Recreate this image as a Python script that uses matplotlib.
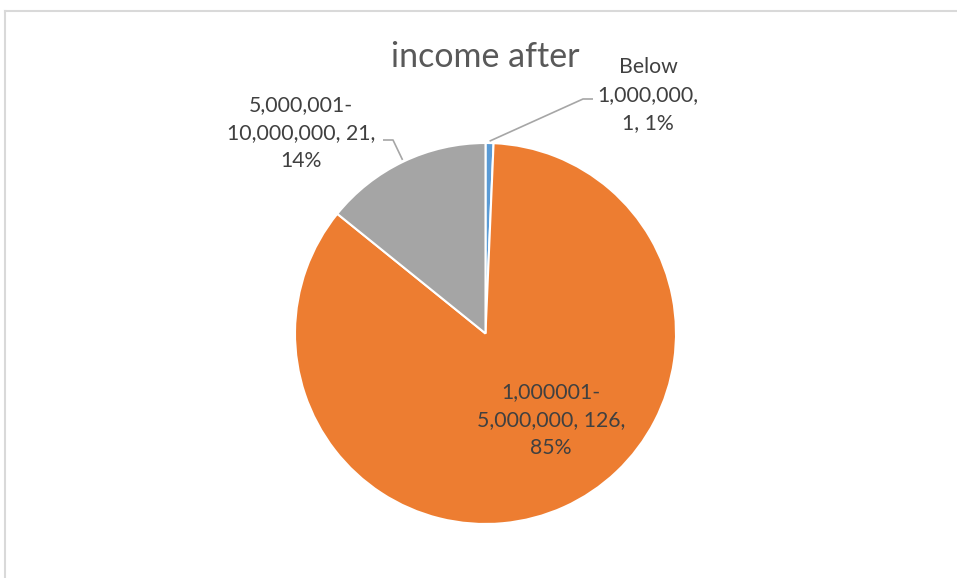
import numpy as np
import matplotlib.pyplot as plt
from matplotlib.lines import Line2D

plt.rcParams['font.family'] = ['Lato', 'DejaVu Sans']

# income bands and respondent counts
categories = ['Below 1,000,000', '1,000001-5,000,000', '5,000,001-10,000,000']
counts = [1, 126, 21]
colors = ['#5B9BD5', '#ED7D31', '#A5A5A5']

W, H = 957, 578
fig = plt.figure(figsize=(W / 100, H / 100), dpi=100)
ax = fig.add_axes([0, 0, 1, 1])

# work in pixel-like units, y measured upward
cx, cy, r = 485.5, H - 333.5, 190.5
wedges, _ = ax.pie(counts, colors=colors, startangle=90, counterclock=False,
                   center=(cx, cy), radius=r,
                   wedgeprops=dict(edgecolor='white', linewidth=1.5))
ax.set_xlim(0, W)
ax.set_ylim(0, H)
ax.set_aspect('equal')
ax.axis('off')

total = sum(counts)
pct = [round(100 * n / total) for n in counts]
texts = [
    f"Below\n{categories[0].split(' ')[1]},\n{counts[0]}, {pct[0]}%",
    f"{categories[1][:9]}\n{categories[1][9:]}, {counts[1]},\n{pct[1]}%",
    f"{categories[2][:10]}\n{categories[2][10:]}, {counts[2]},\n{pct[2]}%",
]

label_pos = [(648, H - 95), (551, H - 420), (301, H - 133)]
elbows = [[(583, H - 99), (593, H - 99)], None, [(393, H - 140), (383, H - 140)]]
label_color = '#404040'

for w, txt, pos, elb in zip(wedges, texts, label_pos, elbows):
    ax.text(pos[0], pos[1], txt, ha='center', va='center', fontsize=15.3,
            color=label_color, linespacing=1.52)
    if elb is not None:
        ang = np.deg2rad((w.theta1 + w.theta2) / 2)
        start = (cx + r * 1.01 * np.cos(ang), cy + r * 1.01 * np.sin(ang))
        pts = [start] + elb
        ax.plot([p[0] for p in pts], [p[1] for p in pts], color='#A6A6A6', lw=1.2,
                solid_capstyle='butt')

ax.text(485, H - 57, 'income after', ha='center', va='center', fontsize=24.5,
        color='#595959')

# chart area border (top and left edges visible)
fig.add_artist(Line2D([4.5 / W, 4.5 / W], [0, 1 - 10.5 / H], color='#D9D9D9', lw=1.5,
                      transform=fig.transFigure))
fig.add_artist(Line2D([4.5 / W, 956 / W], [1 - 10.5 / H, 1 - 10.5 / H], color='#D9D9D9',
                      lw=1.5, transform=fig.transFigure))

fig.savefig('out.png', dpi=100, facecolor='white')
